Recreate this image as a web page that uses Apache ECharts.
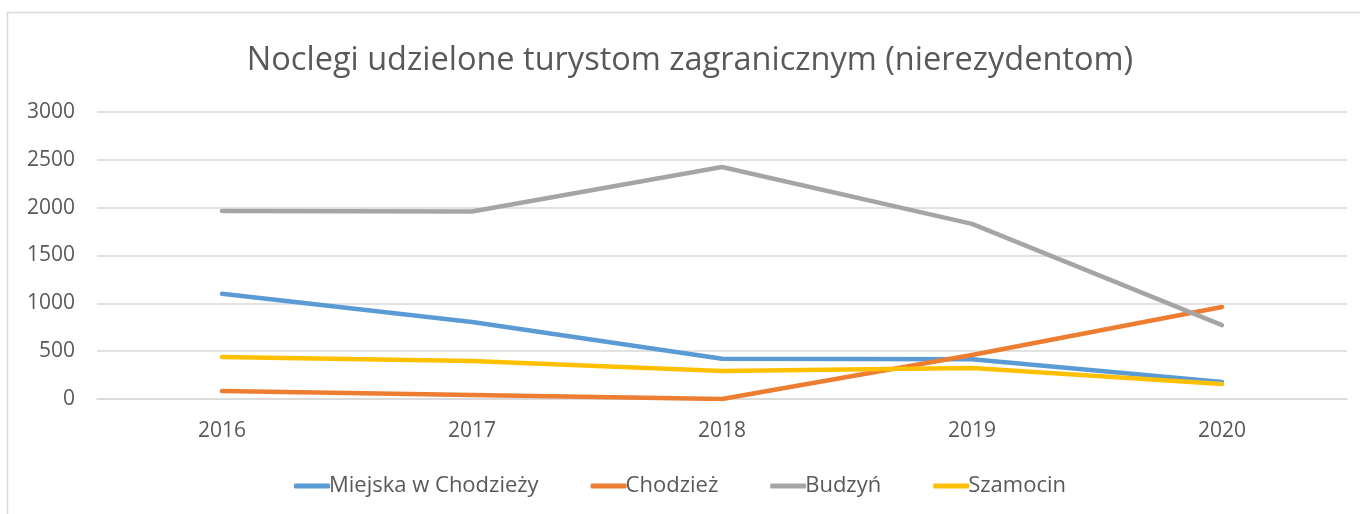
<!DOCTYPE html>
<html>
<head>
<meta charset="utf-8">
<script src="https://cdn.jsdelivr.net/npm/echarts@6/dist/echarts.min.js"></script>
<style>
  html, body { margin: 0; padding: 0; background: #fff; }
  #chart { width: 1360px; height: 514px; }
</style>
</head>
<body>
<div id="chart"></div>
<script>
// lata
const years = ['2016', '2017', '2018', '2019', '2020']
// noclegi wg gminy
const miejska = [1100, 805, 420, 415, 178]
const chodziez = [84, 42, 0, 460, 962]
const budzyn = [1965, 1960, 2425, 1830, 773]
const szamocin = [440, 397, 293, 324, 157]
const yTicks = [0, 500, 1000, 1500, 2000, 2500, 3000]

const textColor = '#595959'
const font = 'Open Sans'
const names = ['Miejska w Chodzieży', 'Chodzież', 'Budzyń', 'Szamocin']
const colors = ['#5b9bd5', '#ed7d31', '#a5a5a5', '#ffc000']

const mkLine = (i, data) => ({
  name: names[i],
  type: 'line',
  data: data,
  symbol: 'none',
  color: colors[i],
  lineStyle: { width: 4.5, color: colors[i], cap: 'round', join: 'round' },
  emphasis: { disabled: true }
})

const chart = echarts.init(document.getElementById('chart'))
chart.setOption({
  animation: false,
  textStyle: { fontFamily: font },
  title: {
    text: 'Noclegi udzielone turystom zagranicznym (nierezydentom)',
    left: 685,
    textAlign: 'center',
    top: 39,
    textStyle: { fontSize: 32.5, fontWeight: 'normal', color: textColor, fontFamily: font }
  },
  graphic: [{
    type: 'rect',
    shape: { x: 7.5, y: 12.5, width: 1400, height: 600 },
    style: { fill: 'none', stroke: '#d9d9d9', lineWidth: 1.5 },
    silent: true
  }],
  legend: {
    top: 470,
    left: 'center',
    icon: 'roundRect',
    itemWidth: 36,
    itemHeight: 5,
    itemGap: 52,
    textStyle: { fontSize: 22, color: textColor, fontFamily: font, padding: [0, 0, 0, -6] },
    data: names
  },
  grid: { left: 97, right: 13, top: 112, bottom: 115, containLabel: false },
  xAxis: {
    type: 'category',
    data: years,
    boundaryGap: true,
    axisLine: { lineStyle: { color: '#d9d9d9', width: 1.5 } },
    axisTick: { show: false },
    axisLabel: { color: textColor, fontSize: 21, margin: 22, fontFamily: font }
  },
  yAxis: {
    type: 'value',
    min: yTicks[0],
    max: yTicks[yTicks.length - 1],
    interval: 500,
    axisLine: { show: false },
    axisTick: { show: false },
    axisLabel: { color: textColor, fontSize: 21, margin: 22, fontFamily: font, formatter: v => String(v) },
    splitLine: { lineStyle: { color: '#d9d9d9', width: 1.5 } }
  },
  series: [
    mkLine(0, miejska),
    mkLine(1, chodziez),
    mkLine(2, budzyn),
    mkLine(3, szamocin)
  ]
})
</script>
</body>
</html>
